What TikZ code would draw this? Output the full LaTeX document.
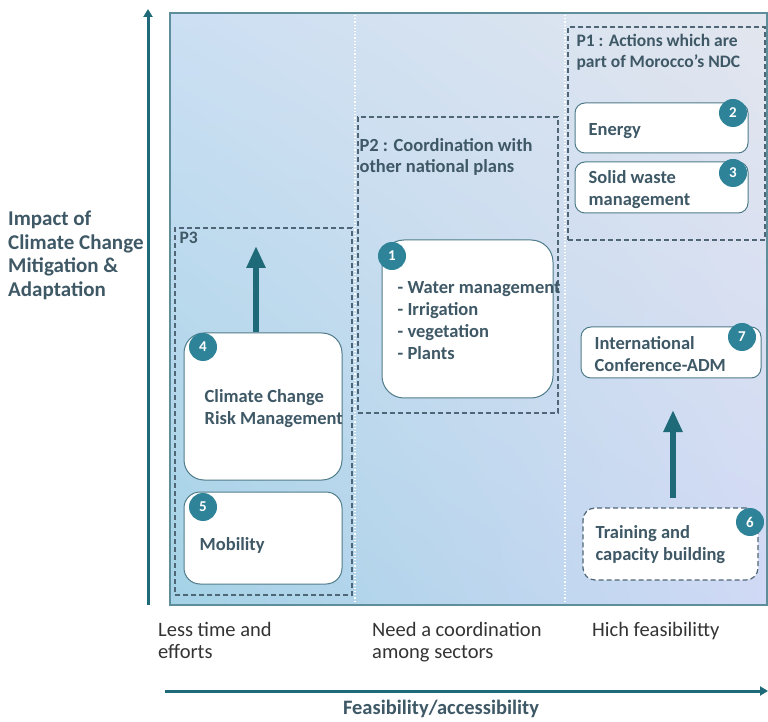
\documentclass[tikz,border=0pt]{standalone}
\usepackage{fontspec}
\setmainfont{Carlito}
\usetikzlibrary{arrows.meta,positioning,shadings}
\definecolor{axisteal}{HTML}{1E6A78}
\definecolor{badgeteal}{HTML}{2E8399}
\definecolor{boxline}{HTML}{4F7C8A}
\definecolor{groupgrey}{HTML}{4E6676}
\definecolor{textgrey}{HTML}{3E5866}
\definecolor{labelgrey}{HTML}{333333}
\definecolor{panelline}{HTML}{5E8E9A}
\definecolor{bgul}{HTML}{CCDFF3}
\definecolor{bgll}{HTML}{A4D2E6}
\definecolor{bgur}{HTML}{E2E6EE}
\definecolor{bglr}{HTML}{D0D9F5}
\begin{document}
\begin{tikzpicture}[x=1pt,y=1pt,
	box/.style={draw=boxline,line width=1pt,fill=white,inner sep=0pt},
	badge/.style={circle,fill=badgeteal,text=white,inner sep=0pt,minimum size=28pt,
		font=\bfseries\fontsize{15}{15}\selectfont},
	txt/.style={anchor=west,inner sep=0pt,align=left,text=textgrey,
		font=\bfseries\fontsize{18.5}{22}\selectfont},
	group/.style={draw=groupgrey,line width=1.3pt,dash pattern=on 5pt off 3pt,
		inner sep=0pt},
	grouplabel/.style={anchor=north west,inner sep=0pt,align=left,text=textgrey,
		font=\bfseries\fontsize{17.5}{21}\selectfont},
	axislabel/.style={anchor=north west,inner sep=0pt,align=left,text=labelgrey,
		font=\fontsize{20.5}{22}\selectfont},
	bigarrow/.style={draw=axisteal,line width=6pt,-{Triangle[width=18pt,length=22pt]}},
	axis/.style={draw=axisteal,line width=3pt,-{Triangle[width=9pt,length=8pt]}}]
	\useasboundingbox (0,0) rectangle (768,721);
	% panel
	\shade[upper left=bgul,lower left=bgll,upper right=bgur,lower right=bglr]
		(170,116) rectangle (767,708);
	\draw[white,dotted,line width=1.2pt] (355,116) -- (355,708);
	\draw[white,dotted,line width=1.2pt] (565,116) -- (565,708);
	\draw[panelline,line width=1.2pt] (170,116) rectangle (767,708);
	% axes
	\coordinate (ybot) at (148,116);
	\coordinate (ytop) at (148,712);
	\coordinate (xleft) at (165,30);
	\coordinate (xright) at (768,30);
	\draw[axis] (ybot) -- (ytop);
	\draw[axis] (xleft) -- (xright);
	\node[anchor=north west,inner sep=0pt,align=left,text=textgrey,
		font=\bfseries\fontsize{21}{23.5}\selectfont] (ylab) at (8,510)
		{Impact of\\Climate Change\\Mitigation \&\\Adaptation};
	\node[axislabel] (x1) at (158,99) {Less time and\\efforts};
	\node[axislabel] (x2) at (372,99) {Need a coordination\\among sectors};
	\node[axislabel] (x3) at (592,99) {Hich feasibilitty};
	\node[inner sep=0pt,text=textgrey,font=\bfseries\fontsize{20.5}{22}\selectfont]
		(xlab) at (441,12) {Feasibility/accessibility};
	% groups
	\node[group,minimum width=197pt,minimum height=213pt] (p1) at (666.5,587.5) {};
	\node[grouplabel] (p1lab) at ([xshift=9pt,yshift=-8pt]p1.north west)
		{P1 : Actions which are\\part of Morocco’s NDC};
	\node[group,minimum width=200pt,minimum height=296pt] (p2) at (458,456) {};
	\node[grouplabel,font=\bfseries\fontsize{18.5}{21}\selectfont] (p2lab)
		at ([xshift=2pt,yshift=-22pt]p2.north west)
		{P2 : Coordination with\\other national plans};
	\node[group,minimum width=177pt,minimum height=367pt] (p3) at (263.5,309.5) {};
	\node[grouplabel] (p3lab) at ([xshift=5pt,yshift=-4pt]p3.north west) {P3};
	% boxes
	\node[box,rounded corners=10pt,minimum width=173pt,minimum height=50pt] (energy) at (661.5,593) {};
	\node[txt] at ([xshift=14pt,yshift=-3pt]energy.west) {Energy};
	\node[badge] (b2) at (733,608) {2};
	\node[box,rounded corners=10pt,minimum width=173pt,minimum height=51pt] (waste) at (661.5,533.5) {};
	\node[txt] at ([xshift=14pt,yshift=-2pt]waste.west) {Solid waste\\management};
	\node[badge] (b3) at (733,548) {3};
	\node[box,rounded corners=22pt,minimum width=171pt,minimum height=158pt] (water) at (467.5,402) {};
	\node[txt] at ([xshift=16pt,yshift=-2pt]water.west)
		{- Water management\\- Irrigation\\- vegetation\\- Plants};
	\node[badge] (b1) at (392,465) {1};
	\node[box,rounded corners=20pt,minimum width=158pt,minimum height=147pt] (risk) at (263,314.5) {};
	\node[txt] at ([xshift=21pt,yshift=-2pt]risk.west) {Climate Change\\Risk Management};
	\node[badge] (b4) at (203,374) {4};
	\node[box,rounded corners=16pt,minimum width=158pt,minimum height=92pt] (mobility) at (263,183) {};
	\node[txt] at ([xshift=16pt,yshift=-7pt]mobility.west) {Mobility};
	\node[badge] (b5) at (203,214) {5};
	\node[box,rounded corners=10pt,minimum width=180pt,minimum height=51pt] (conf) at (671,368.5) {};
	\node[txt] at ([xshift=14pt,yshift=-2pt]conf.west) {International\\Conference-ADM};
	\node[badge] (b7) at (742,384) {7};
	\node[box,rounded corners=12pt,draw=groupgrey,line width=1.2pt,dash pattern=on 5pt off 3pt,
		minimum width=175pt,minimum height=72pt] (training) at (670.5,177) {};
	\node[txt] at ([xshift=13pt,yshift=-1pt]training.west) {Training and\\capacity building};
	\node[badge] (b6) at (750,199) {6};
	% arrows
	\coordinate (risktop) at (256,475);
	\draw[bigarrow] (risk.north -| risktop) -- (risktop);
	\coordinate (trainup) at (673,223);
	\coordinate (confdown) at (673,311);
	\draw[bigarrow] (trainup) -- (confdown);
\end{tikzpicture}
\end{document}
